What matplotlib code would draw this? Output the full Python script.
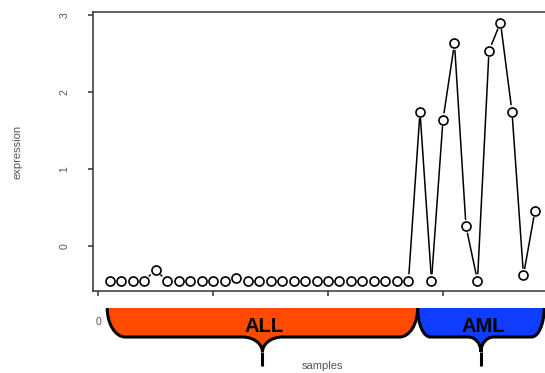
import matplotlib
matplotlib.use("Agg")
import matplotlib.pyplot as plt
import numpy as np
from matplotlib.path import Path
from matplotlib.patches import PathPatch

plt.rcParams['font.family'] = ['Liberation Sans', 'DejaVu Sans']

# expression of one gene across the 38 samples (27 ALL, 11 AML)
groups = ['ALL', 'AML']
group_sizes = [27, 11]
group_colors = ['#FF4A00', '#0F3CFF']
expression = [
    -0.45, -0.45, -0.45, -0.45, -0.315, -0.45, -0.45, -0.45, -0.45,
    -0.45, -0.45, -0.42, -0.45, -0.45, -0.45, -0.45, -0.45, -0.45,
    -0.45, -0.45, -0.45, -0.45, -0.45, -0.45, -0.45, -0.45, -0.45,
    1.745, -0.45, 1.64, 2.63, 0.255, -0.45, 2.535, 2.90, 1.745,
    -0.38, 0.46,
]
x_ticks = [0, 10, 20, 30]
y_ticks = [0, 1, 2, 3]

W, H = 545, 373
fig = plt.figure(figsize=(W / 100, H / 100), dpi=100)
ax = fig.add_axes([92.5 / W, 1 - 291 / H, 459.5 / W, (291 - 12.3) / H])

x = np.arange(1, len(expression) + 1)
y = np.array(expression)

# R-style 4% padding on both axes
xr = x.max() - x.min()
yr = y.max() - y.min()
ax.set_xlim(x.min() - 0.04 * xr, x.max() + 0.04 * xr)
ax.set_ylim(y.min() - 0.04 * yr, y.max() + 0.04 * yr)

ink = '#333333'
txt = '#555555'
for s in ax.spines.values():
    s.set_color(ink)
    s.set_linewidth(1.1)

ax.set_xticks(x_ticks)
ax.set_yticks(y_ticks)
ax.tick_params(axis='both', direction='out', length=3.6, width=1.1,
               color=ink, labelcolor=txt, labelsize=7.5)
ax.tick_params(axis='x', pad=15)
ax.tick_params(axis='y', pad=13)
for lab in ax.get_yticklabels():
    lab.set_rotation(90)
    lab.set_va('center')

ax.set_ylabel('expression', fontsize=8, color=txt)
ax.yaxis.set_label_coords(-0.153, 0.5)
ax.set_xlabel('samples', fontsize=8, color=txt)
ax.xaxis.set_label_coords(0.5, -0.252)

# points with gapped connecting lines (type "b")
ax.plot(x, y, 'o', ms=6.5, mfc='white', mec='black', mew=1.2, zorder=3)
gap = 5.0  # points
gap_px = gap * fig.dpi / 72
for i in range(len(x) - 1):
    p1 = ax.transData.transform((x[i], y[i]))
    p2 = ax.transData.transform((x[i + 1], y[i + 1]))
    if np.hypot(*(p2 - p1)) <= 2 * gap_px:
        continue
    ax.annotate('', xy=(x[i + 1], y[i + 1]), xytext=(x[i], y[i]),
                arrowprops=dict(arrowstyle='-', lw=1.1, color='black',
                                shrinkA=gap, shrinkB=gap), zorder=2)


def fig_xy(px, py):
    return px / W, 1 - py / H


def brace(x0, x1, color, label):
    yt, yb, yc, ys = 308, 337, 352, 366
    w = x1 - x0
    rx = min(18, 0.1 * w)
    cw = min(20, 0.1 * w)
    xm = (x0 + x1) / 2
    k = 0.55
    pts = [
        (x0, yt),
        (x0, yt + k * (yb - yt)), (x0 + (1 - k) * rx, yb), (x0 + rx, yb),
        (xm - cw, yb),
        (xm - (1 - k) * cw, yb), (xm, yc - k * (yc - yb)), (xm, yc),
        (xm, yc - k * (yc - yb)), (xm + (1 - k) * cw, yb), (xm + cw, yb),
        (x1 - rx, yb),
        (x1 - (1 - k) * rx, yb), (x1, yt + k * (yb - yt)), (x1, yt),
    ]
    codes = ([Path.MOVETO] + [Path.CURVE4] * 3 + [Path.LINETO]
             + [Path.CURVE4] * 6 + [Path.LINETO] + [Path.CURVE4] * 3)
    verts = [fig_xy(*p) for p in pts]
    fill = PathPatch(Path(verts + [verts[0]], codes + [Path.CLOSEPOLY]),
                     facecolor=color, edgecolor='none',
                     transform=fig.transFigure, zorder=5)
    edge = PathPatch(Path(verts, codes), facecolor='none', edgecolor='black',
                     lw=2.2, transform=fig.transFigure, zorder=6)
    stem = PathPatch(Path([fig_xy(xm, yc), fig_xy(xm, ys)]), edgecolor='black',
                     lw=2.2, transform=fig.transFigure, zorder=6)
    for p in (fill, edge, stem):
        fig.add_artist(p)
    fig.text(*fig_xy(xm + 2, 326.5), label, ha='center', va='center',
             fontsize=14.5, fontweight='bold', color='black', zorder=7)


# braces under the axis marking each group
start = 0.8
for name, n, col in zip(groups, group_sizes, group_colors):
    px0 = ax.transData.transform((start, 0))[0]
    px1 = ax.transData.transform((start + n, 0))[0]
    brace(px0, px1, col, name)
    start += n

fig.savefig('out.png', dpi=100)
